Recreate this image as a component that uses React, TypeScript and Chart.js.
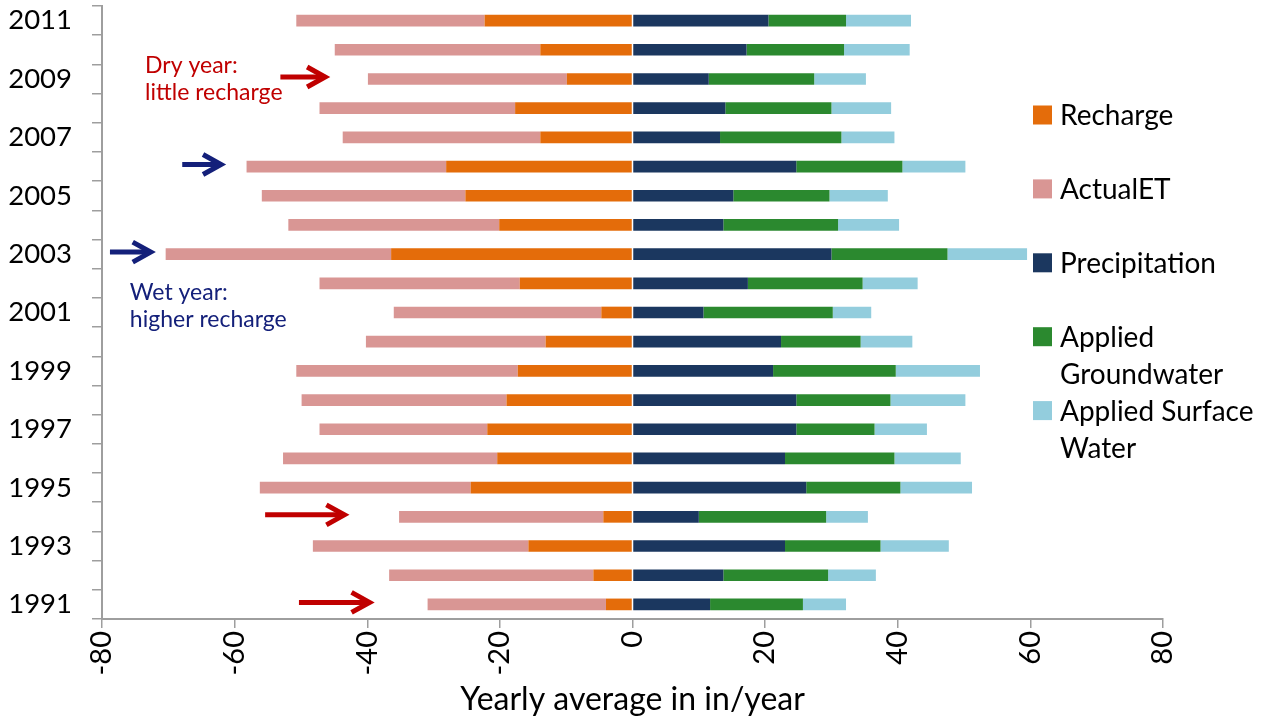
import React, { useEffect, useRef } from 'react';
import { Chart, registerables } from 'chart.js';

Chart.register(...registerables);

// ---- Data (bottom to top: 1991 .. 2011) ----
const years = [
  '1991', '1992', '1993', '1994', '1995', '1996', '1997', '1998', '1999', '2000',
  '2001', '2002', '2003', '2004', '2005', '2006', '2007', '2008', '2009', '2010', '2011',
];
const recharge = [
  -4.0, -5.9, -15.7, -4.4, -24.4, -20.4, -21.9, -19.0, -17.3, -13.1,
  -4.7, -17.0, -36.4, -20.1, -25.2, -28.1, -13.9, -17.7, -9.9, -13.9, -22.3,
];
const actualET = [
  -26.9, -30.8, -32.5, -30.8, -31.8, -32.3, -25.3, -30.9, -33.4, -27.1,
  -31.3, -30.2, -34.0, -31.8, -30.7, -30.1, -29.8, -29.5, -30.0, -31.0, -28.4,
];
const precipitation = [
  11.7, 13.7, 23.0, 10.0, 26.2, 23.0, 24.7, 24.7, 21.2, 22.4,
  10.7, 17.4, 30.0, 13.7, 15.2, 24.7, 13.2, 14.0, 11.5, 17.2, 20.5,
];
const appliedGroundwater = [
  14.0, 15.8, 14.4, 19.2, 14.2, 16.5, 11.8, 14.2, 18.5, 12.0,
  19.5, 17.3, 17.5, 17.3, 14.5, 16.0, 18.3, 16.0, 15.9, 14.7, 11.7,
];
const appliedSurfaceWater = [
  6.5, 7.2, 10.3, 6.3, 10.8, 10.0, 7.9, 11.3, 12.7, 7.8,
  5.8, 8.3, 12.0, 9.2, 8.8, 9.5, 8.0, 9.0, 7.8, 9.9, 9.8,
];

const seriesNames = ['Recharge', 'ActualET', 'Precipitation', 'Applied Groundwater', 'Applied Surface Water'];
const legendLines = [['Recharge'], ['ActualET'], ['Precipitation'], ['Applied', 'Groundwater'], ['Applied Surface', 'Water']];
const seriesColors = ['#E46C0A', '#D99694', '#1B375F', '#2B892F', '#93CDDD'];

const xMin = -80;
const xMax = 80;
const xStep = 20;
const xTitle = 'Yearly average in in/year';

const RED = '#C00000';
const NAVY = '#14207A';

// annotation arrows: year, tail value, tip value, colour
const arrowYears = ['2009', '1994', '1991', '2006', '2003'];
const arrowTails = [-53.1, -55.4, -50.3, -67.9, -78.8];
const arrowTips = [-46.2, -43.3, -39.5, -61.9, -72.5];
const arrowColors = [RED, RED, RED, NAVY, NAVY];

const noteTexts = [['Dry year:', 'little recharge'], ['Wet year:', 'higher recharge']];
const noteX = [-73.5, -75.8];
const noteAt = [18.22, 10.43]; // fractional category index of first baseline
const noteColors = [RED, NAVY];

const FONT = 'Lato, "Open Sans", "DejaVu Sans", sans-serif';
const AXIS_GRAY = '#9E9E9E';

export default function App() {
  const ref = useRef<HTMLCanvasElement | null>(null);

  useEffect(() => {
    const canvas = ref.current;
    if (!canvas) return;

    const overlay = {
      id: 'overlay',
      afterDraw(chart: any) {
        const { ctx, chartArea } = chart;
        const x = chart.scales.x;
        const y = chart.scales.y;
        ctx.save();

        // arrows
        arrowYears.forEach((yr, i) => {
          const py = y.getPixelForValue(years.indexOf(yr)) - 2;
          const tail = x.getPixelForValue(arrowTails[i]);
          const tip = x.getPixelForValue(arrowTips[i]);
          ctx.strokeStyle = arrowColors[i];
          ctx.lineWidth = 5;
          ctx.lineCap = 'butt';
          ctx.lineJoin = 'miter';
          ctx.beginPath();
          ctx.moveTo(tail, py);
          ctx.lineTo(tip - 3, py);
          ctx.stroke();
          ctx.beginPath();
          ctx.moveTo(tip - 19, py - 10);
          ctx.lineTo(tip - 1, py);
          ctx.lineTo(tip - 19, py + 10);
          ctx.stroke();
        });

        // notes
        ctx.textAlign = 'left';
        ctx.textBaseline = 'alphabetic';
        ctx.font = `23px ${FONT}`;
        noteTexts.forEach((lines, i) => {
          const px = x.getPixelForValue(noteX[i]);
          const py = y.getPixelForValue(noteAt[i]);
          ctx.fillStyle = noteColors[i];
          lines.forEach((t, j) => ctx.fillText(t, px, py + j * 27.5));
        });

        // legend
        const boxX = chartArea.right - 130;
        const startY = chartArea.top + 109;
        ctx.font = `28px ${FONT}`;
        ctx.textBaseline = 'middle';
        legendLines.forEach((lines, i) => {
          const cy = startY + i * 73.9;
          ctx.fillStyle = seriesColors[i];
          ctx.fillRect(boxX, cy - 9.5, 19, 19);
          ctx.fillStyle = '#000';
          lines.forEach((t, j) => ctx.fillText(t, boxX + 27, cy + 1 + j * 37.5));
        });

        ctx.restore();
      },
    };

    const seriesData = [recharge, actualET, precipitation, appliedGroundwater, appliedSurfaceWater];

    const chart = new Chart(canvas, {
      type: 'bar',
      data: {
        labels: years,
        datasets: seriesNames.map((name, i) => ({
          label: name,
          data: seriesData[i],
          backgroundColor: seriesColors[i],
          borderWidth: 0,
          barPercentage: 0.4,
          categoryPercentage: 1,
        })),
      },
      options: {
        indexAxis: 'y',
        responsive: true,
        maintainAspectRatio: false,
        animation: false,
        layout: { padding: { top: 6, right: 106, bottom: 0, left: 0 } },
        plugins: {
          legend: { display: false },
          tooltip: { enabled: false },
        },
        scales: {
          x: {
            type: 'linear',
            stacked: true,
            min: xMin,
            max: xMax,
            ticks: {
              stepSize: xStep,
              maxRotation: 90,
              minRotation: 90,
              color: '#000',
              font: { family: FONT, size: 29 },
              padding: 3,
              callback: (v: any) => String(v),
            },
            grid: {
              drawOnChartArea: false,
              drawTicks: true,
              tickLength: 9,
              color: AXIS_GRAY,
              lineWidth: 1.5,
            },
            border: { display: true, color: AXIS_GRAY, width: 2 },
            title: {
              display: true,
              text: xTitle,
              color: '#000',
              font: { family: FONT, size: 32 },
              padding: { top: 0, bottom: 1 },
            },
            afterFit: (s: any) => {
              s.height = 101;
              s.paddingLeft = 0;
              s.paddingRight = 0;
            },
          },
          y: {
            type: 'category',
            stacked: true,
            reverse: true,
            offset: true,
            ticks: {
              autoSkip: false,
              color: '#000',
              font: { family: FONT, size: 27.5 },
              padding: 20,
              callback: function (this: any, v: any, i: number) {
                return i % 2 === 0 ? this.getLabelForValue(v) : '';
              },
            },
            grid: {
              drawOnChartArea: false,
              offset: true,
              tickLength: 10,
              color: AXIS_GRAY,
              lineWidth: 1.5,
            },
            border: { display: true, color: AXIS_GRAY, width: 2 },
            afterFit: (s: any) => {
              s.width = 102;
              s.paddingTop = 0;
              s.paddingBottom = 0;
            },
          },
        },
      },
      plugins: [overlay],
    } as any);

    return () => chart.destroy();
  }, []);

  return (
    <div style={{ position: 'fixed', left: 0, top: 0, width: 1269, height: 720, background: '#fff' }}>
      <canvas ref={ref} />
    </div>
  );
}
